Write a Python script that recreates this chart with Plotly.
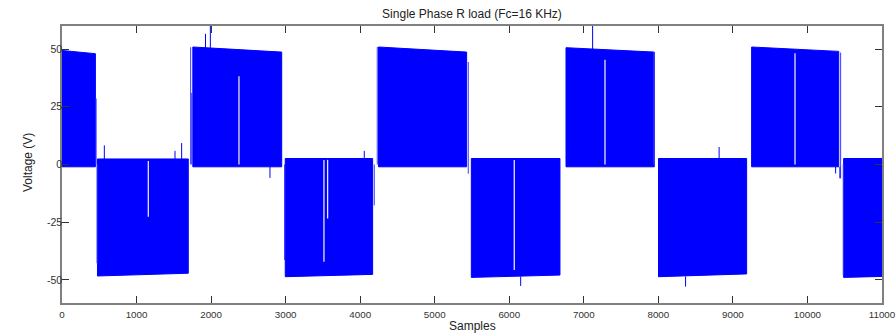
import plotly.graph_objects as go

# ---- data ----
# PWM blocks (samples), level at block start/end (V), and the near-zero edge level
block_start = [0, 476, 1755, 2995, 4245, 5491, 6761, 8002, 9251, 10485]
block_end = [448, 1694, 2947, 4167, 5428, 6680, 7945, 9184, 10420, 11000]
block_level_start = [49.4, -48.3, 50.9, -48.6, 50.9, -48.9, 50.6, -48.6, 50.9, -48.9]
block_level_end = [48.0, -47.1, 48.7, -47.6, 48.7, -47.9, 48.7, -47.4, 49.0, -48.5]
block_base = [-1.0, 2.4, -1.0, 2.6, -1.0, 2.6, -1.0, 2.6, -1.0, 2.6]

# partial pulses next to the block edges
edge_x = [458, 470, 1726, 1740, 2985, 4189, 4229, 5450, 7940, 10445, 10480]
edge_from = [0, 0, 0, 0, 0, 0, 0, -4, 0, -6, 0]
edge_to = [28.6, -42.8, 50.8, 31.0, -41.4, -17.7, 50.9, 44.4, 48.7, 48.5, -48.0]

# isolated spikes (overshoots)
spike_x = [568, 1516, 1605, 1925, 1990, 2790, 4055, 6153, 7118, 8365, 8815, 10378, 10435]
spike_from = [2.0, 2.0, 2.0, 50.0, 50.0, -1.0, 2.0, -48.5, 50.0, -48.5, 2.0, -1.0, -1.0]
spike_to = [8.3, 5.9, 9.3, 56.6, 60.0, -5.8, 5.9, -52.6, 61.0, -52.9, 7.6, -3.9, -6.0]

# narrow gaps inside the blocks
gap_x = [1158, 2374, 3514, 3563, 6067, 7284, 9833]
gap_from = [1.5, 0.0, 2.0, 2.0, 2.0, 0.0, 0.0]
gap_to = [-22.6, 38.2, -42.1, -23.4, -45.7, 45.4, 48.2]

x_ticks = list(range(0, 11001, 1000))
y_ticks = [-50, -25, 0, 25, 50]

BLUE = "#0000ff"

fig = go.Figure()

for s, e, ls, le, b in zip(block_start, block_end, block_level_start, block_level_end, block_base):
    fig.add_trace(go.Scatter(
        x=[s, s, e, e, s], y=[b, ls, le, b, b],
        mode="lines", fill="toself", fillcolor=BLUE,
        line=dict(color=BLUE, width=1), hoverinfo="skip"))


def segs(xs, y0s, y1s):
    X, Y = [], []
    for x, a, b in zip(xs, y0s, y1s):
        X += [x, x, None]
        Y += [a, b, None]
    return X, Y


ex, ey = segs(edge_x, edge_from, edge_to)
fig.add_trace(go.Scatter(x=ex, y=ey, mode="lines", line=dict(color="#3a3aff", width=1), hoverinfo="skip"))
sx, sy = segs(spike_x, spike_from, spike_to)
fig.add_trace(go.Scatter(x=sx, y=sy, mode="lines", line=dict(color=BLUE, width=1), hoverinfo="skip"))
gx, gy = segs(gap_x, gap_from, gap_to)
fig.add_trace(go.Scatter(x=gx, y=gy, mode="lines", line=dict(color="#e4e4ff", width=1.3), hoverinfo="skip"))

FONT = "Liberation Sans, Arial, sans-serif"

axis_common = dict(
    showgrid=False, zeroline=False, showline=True, linecolor="#808080", linewidth=1.5,
    mirror="ticks", ticks="inside", ticklen=7, tickwidth=1, tickcolor="#333333",
    ticklabeloverflow="allow", automargin=False,
)

fig.update_layout(
    width=896, height=334,
    margin=dict(l=62, r=14, t=26, b=31),
    plot_bgcolor="white", paper_bgcolor="white",
    showlegend=False,
    title=dict(text="Single Phase R load (Fc=16 KHz)", x=0.5, xref="paper", xanchor="center",
               y=1 - 14 / 334, yref="container", yanchor="middle",
               font=dict(family=FONT, size=12, color="#222222")),
    xaxis=dict(range=[0, 11000], tickvals=x_ticks, ticktext=[str(v) for v in x_ticks],
               ticklabelstandoff=1, tickfont=dict(family=FONT, size=9.8, color="#333333"),
               **axis_common),
    yaxis=dict(range=[-60, 60], tickvals=y_ticks, ticktext=[str(v) for v in y_ticks],
               ticklabelstandoff=-4, tickfont=dict(family=FONT, size=10.5, color="#333333"),
               **axis_common),
    annotations=[
        dict(text="Samples", x=0.5, xref="paper", y=-(326 - 303) / 277, yref="paper",
             xanchor="center", yanchor="middle", showarrow=False,
             font=dict(family=FONT, size=12, color="#222222")),
        dict(text="Voltage (V)", x=(28 - 62) / 820, xref="paper", y=(303 - 163) / 277, yref="paper",
             xanchor="center", yanchor="middle", textangle=-90, showarrow=False,
             font=dict(family=FONT, size=12, color="#222222")),
    ],
)

fig.write_html(
    "out.html",
    config={"displayModeBar": False},
    post_script="document.body.style.margin='0';document.body.style.overflow='hidden';",
)
